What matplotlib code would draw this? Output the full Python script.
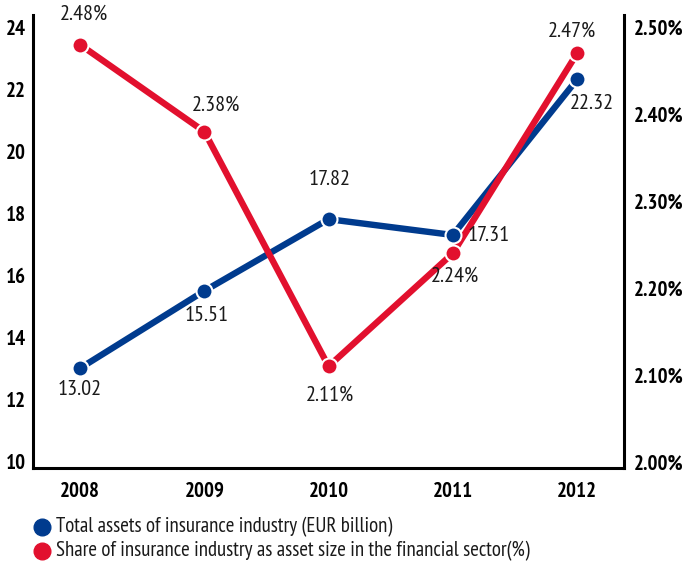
import matplotlib
matplotlib.use('Agg')
import matplotlib.pyplot as plt
from matplotlib.lines import Line2D

years = ['2008', '2009', '2010', '2011', '2012']
total_assets = [13.02, 15.51, 17.82, 17.31, 22.32]
share_pct = [2.48, 2.38, 2.11, 2.24, 2.47]
left_ticks = [10, 12, 14, 16, 18, 20, 22, 24]
right_ticks = [2.00, 2.10, 2.20, 2.30, 2.40, 2.50]
legend_labels = ['Total assets of insurance industry (EUR billion)',
                 'Share of insurance industry as asset size in the financial sector(%)']

BLUE = '#003B8E'
RED = '#E2102E'

plt.rcParams['font.family'] = ['PT Sans Narrow', 'DejaVu Sans']

fig = plt.figure(figsize=(6.86, 5.73), dpi=100)
ax = fig.add_axes([0.048, 0.183, 0.862, 0.791])
ax2 = ax.twinx()

x = list(range(len(years)))

ax.set_xlim(-0.38, 4.38)
ax.set_ylim(9.8, 24.4)
ax2.set_ylim(2.0 + (9.8 - 10) * 0.5 / 14, 2.0 + (24.4 - 10) * 0.5 / 14)


# share values expressed in left-axis units so both series sit in one axes (z-order)
def to_left(v):
    return 10 + (v - 2.0) * 14 / 0.5


share_left = [to_left(v) for v in share_pct]

ax.plot(x, total_assets, color=BLUE, lw=4.6, solid_capstyle='round', zorder=2)
ax.plot(x, share_left, color=RED, lw=4.6, solid_capstyle='round', zorder=3)
ax.plot(x, share_left, 'o', color=RED, ms=11.5, mec='white', mew=1.5, zorder=4)
ax.plot(x, total_assets, 'o', color=BLUE, ms=11.5, mec='white', mew=1.5, zorder=5)

ax.spines['top'].set_visible(False)
ax2.spines['top'].set_visible(False)
ax.spines['right'].set_visible(False)
ax2.spines['left'].set_visible(False)
ax2.spines['bottom'].set_visible(False)
for s in [ax.spines['left'], ax.spines['bottom'], ax2.spines['right']]:
    s.set_linewidth(2.2)

ax.set_xticks(x)
ax.set_xticklabels(years, fontsize=15, fontweight='bold')
ax.set_yticks(left_ticks)
ax.set_yticklabels([str(t) for t in left_ticks], fontsize=15, fontweight='bold')
ax2.set_yticks(right_ticks)
ax2.set_yticklabels(['%.2f%%' % t for t in right_ticks], fontsize=15, fontweight='bold')
ax.tick_params(axis='y', length=0, pad=5)
ax.tick_params(axis='x', length=0, pad=10)
ax2.tick_params(axis='y', length=0, pad=7)

# value label offsets in pixels (dx, dy up)
blue_off = [(0, -21), (2, -25), (1, 40), (36, 0), (15, -24)]
red_off = [(4, 30), (12, 26), (1, -29), (2, -23), (-5, 22)]
for i in x:
    dx, dy = blue_off[i]
    ax.annotate('%.2f' % total_assets[i], (i, total_assets[i]), xytext=(dx * 0.72, dy * 0.72),
                textcoords='offset points', ha='center', va='center', fontsize=16,
                color='#1a1a1a', zorder=6)
    dx, dy = red_off[i]
    ax.annotate('%.2f%%' % share_pct[i], (i, share_left[i]), xytext=(dx * 0.72, dy * 0.72),
                textcoords='offset points', ha='center', va='center', fontsize=16,
                color='#1a1a1a', zorder=6)

# legend drawn by hand: dot + text
for yy, col, lab in [(1 - 527 / 573, BLUE, legend_labels[0]),
                     (1 - 551 / 573, RED, legend_labels[1])]:
    fig.add_artist(Line2D([42 / 686], [yy], marker='o', ls='', color=col, ms=12,
                          transform=fig.transFigure))
    fig.text(56 / 686, yy, lab, fontsize=15, va='center', ha='left', color='#1a1a1a')

fig.savefig('out.png', dpi=100)
